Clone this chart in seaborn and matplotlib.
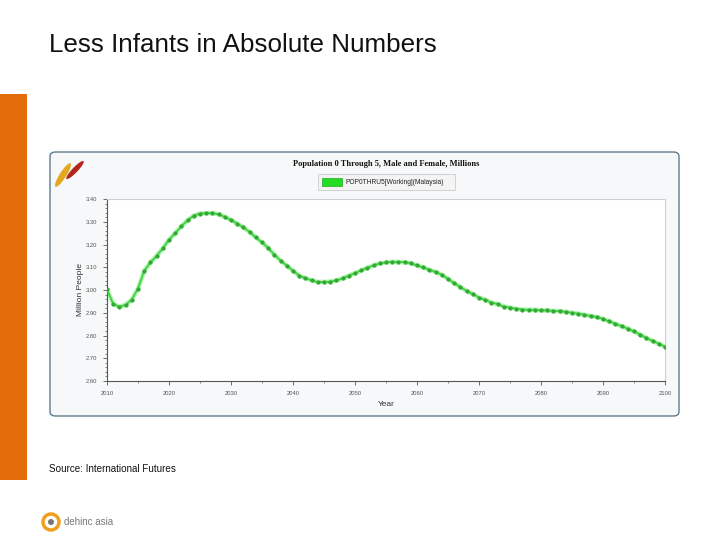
import matplotlib
matplotlib.use("Agg")
import matplotlib.pyplot as plt
import seaborn as sns
import pandas as pd
import numpy as np
from matplotlib.patches import FancyBboxPatch, Rectangle, Ellipse
from matplotlib.ticker import MultipleLocator

years = list(range(2010, 2101))
pop0thru5 = [
    3.003, 2.939, 2.926, 2.935, 2.958, 3.006, 3.084, 3.121, 3.150, 3.183,
    3.221, 3.250, 3.280, 3.307, 3.327, 3.336, 3.338, 3.338, 3.333, 3.321,
    3.308, 3.292, 3.275, 3.255, 3.231, 3.209, 3.185, 3.155, 3.129, 3.107,
    3.085, 3.063, 3.052, 3.042, 3.035, 3.035, 3.037, 3.042, 3.051, 3.063,
    3.074, 3.086, 3.098, 3.108, 3.117, 3.121, 3.124, 3.123, 3.122, 3.118,
    3.108, 3.099, 3.089, 3.079, 3.067, 3.049, 3.030, 3.013, 2.996, 2.982,
    2.967, 2.957, 2.945, 2.938, 2.927, 2.923, 2.917, 2.914, 2.913, 2.913,
    2.910, 2.910, 2.908, 2.907, 2.904, 2.900, 2.896, 2.891, 2.886, 2.881,
    2.873, 2.862, 2.852, 2.841, 2.830, 2.818, 2.804, 2.789, 2.776, 2.764,
    2.751,
]
x_ticks = list(range(2010, 2101, 10))
y_ticks = [2.60, 2.70, 2.80, 2.90, 3.00, 3.10, 3.20, 3.30, 3.40]

slide_title = "Less Infants in Absolute Numbers"
chart_title = "Population 0 Through 5, Male and Female, Millions"
series_name = "POP0THRU5[Working](Malaysia)"
source_text = "Source: International Futures"

sns.set_theme(style="white")
plt.rcParams['font.family'] = ['Liberation Sans', 'DejaVu Sans']

W, H = 720, 540
fig = plt.figure(figsize=(7.2, 5.4), dpi=100)
fig.patch.set_facecolor("white")

def fx(px):
    return px / W

def fy(py):
    return 1 - py / H

# orange side bar
fig.patches.append(Rectangle((0, fy(480)), fx(27), (480 - 94) / H,
                             transform=fig.transFigure, facecolor="#E46C0A",
                             edgecolor="none", zorder=0))
# slide title
fig.text(fx(49), fy(45), slide_title, fontsize=18.7, color="#111111",
         ha="left", va="center")

# chart panel
fig.patches.append(FancyBboxPatch((fx(50), fy(416)), fx(629), (416 - 152) / H,
                                  boxstyle="round,pad=0,rounding_size=0.008",
                                  transform=fig.transFigure, facecolor="#F7F8F9",
                                  edgecolor="#5E7C8C", linewidth=1.0, zorder=0))

# small logo top-left
fig.patches.append(Ellipse((fx(63), fy(175)), fx(7), 26 / H, angle=-25,
                           transform=fig.transFigure, facecolor="#E3A81E",
                           edgecolor="none", zorder=1))
fig.patches.append(Ellipse((fx(75), fy(170)), fx(6), 22 / H, angle=-35,
                           transform=fig.transFigure, facecolor="#B3261E",
                           edgecolor="none", zorder=1))

# chart title and legend
fig.text(fx(386), fy(164), chart_title, fontsize=6, fontweight="bold",
         family=["Liberation Serif", "DejaVu Serif"], ha="center", va="center",
         color="#111111")
fig.patches.append(Rectangle((fx(318), fy(190)), fx(137), 16 / H,
                             transform=fig.transFigure, facecolor="#F4F4F4",
                             edgecolor="#CCCCCC", linewidth=0.6, zorder=1))
fig.patches.append(Rectangle((fx(322), fy(186)), fx(20), 8 / H,
                             transform=fig.transFigure, facecolor="#22DD22",
                             edgecolor="#22AA22", linewidth=0.5, zorder=2))
fig.text(fx(345), fy(182), series_name, fontsize=4.8, ha="left", va="center",
         color="#222222")

# plot area
ax = fig.add_axes([fx(107), fy(381), fx(665 - 107), (381 - 199) / H])
ax.set_zorder(5)
ax.set_facecolor("white")
df = pd.DataFrame({"Year": years, "Value": pop0thru5})
sns.lineplot(data=df, x="Year", y="Value", ax=ax, color="#B8F2B8",
             linewidth=3.4, zorder=2, legend=False)
sns.lineplot(data=df, x="Year", y="Value", ax=ax, color="#3AD63A",
             linewidth=1.3, marker="o", markersize=2.3,
             markerfacecolor="#34A834", markeredgecolor="#34A834",
             zorder=3, legend=False)

ax.set_xlim(2010, 2100)
ax.set_ylim(2.60, 3.40)
ax.set_xticks(x_ticks)
ax.set_xticklabels([str(t) for t in x_ticks])
ax.set_yticks(y_ticks)
ax.set_yticklabels([f"{t:.2f}" for t in y_ticks])
ax.yaxis.set_minor_locator(MultipleLocator(0.02))
ax.xaxis.set_minor_locator(MultipleLocator(5))
ax.tick_params(axis="both", which="major", labelsize=4.2, colors="#555555",
               length=3, width=0.6, direction="out", pad=4)
ax.tick_params(axis="both", which="minor", length=1.5, width=0.5,
               colors="#555555", direction="out")
ax.tick_params(axis="x", bottom=True, which="both")
ax.tick_params(axis="y", left=True, which="both")
for s in ["left", "bottom"]:
    ax.spines[s].set_color("#555555")
    ax.spines[s].set_linewidth(0.8)
for s in ["top", "right"]:
    ax.spines[s].set_color("#D0D0D0")
    ax.spines[s].set_linewidth(0.8)
ax.set_xlabel("")
ax.set_ylabel("")
ax.grid(False)

fig.text(fx(81), fy(290), "Million People", rotation=90, fontsize=6,
         ha="center", va="center", color="#333333")
fig.text(fx(386), fy(404), "Year", fontsize=6, ha="center", va="center",
         color="#333333")

# source
fig.text(fx(49), fy(469), source_text, fontsize=7.1, ha="left", va="center",
         color="#111111")

# bottom logo
fig.patches.append(Ellipse((fx(51), fy(522)), 16 / W, 16 / H,
                           transform=fig.transFigure, facecolor="none",
                           edgecolor="#F0A020", linewidth=2.5, zorder=1))
fig.patches.append(Ellipse((fx(51), fy(522)), 6 / W, 6 / H,
                           transform=fig.transFigure, facecolor="#777777",
                           edgecolor="none", zorder=1))
fig.text(fx(64), fy(522), "dehinc asia", fontsize=7, ha="left", va="center",
         color="#777777")

fig.savefig("out.png", dpi=100, facecolor="white")
